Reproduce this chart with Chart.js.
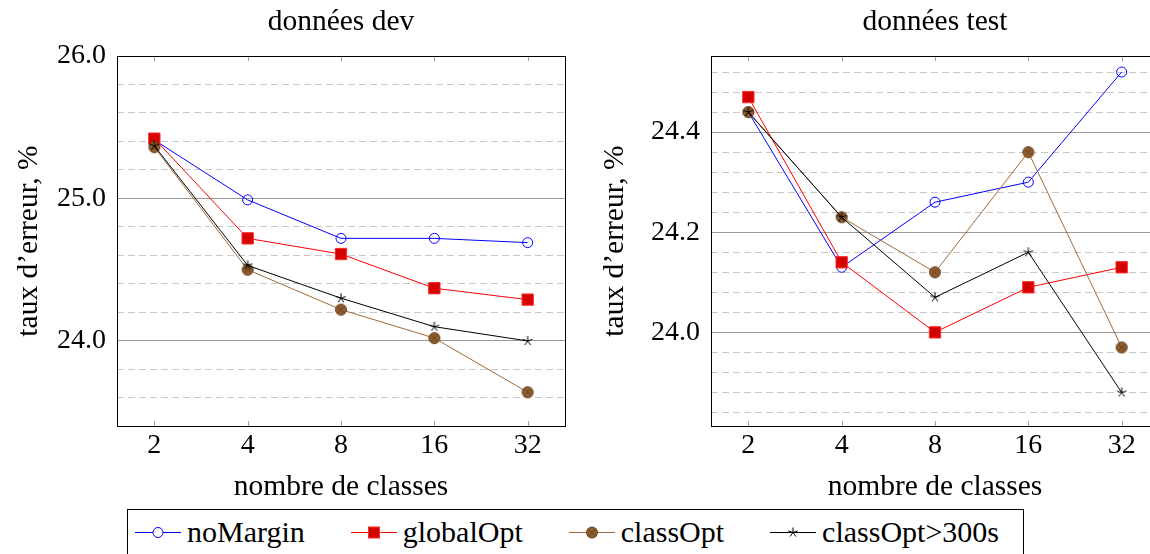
<!DOCTYPE html>
<html>
<head>
<meta charset="utf-8">
<script src="https://cdn.jsdelivr.net/npm/chart.js@4/dist/chart.umd.min.js"></script>
<style>
  html, body { margin: 0; padding: 0; background: #fff; width: 1150px; height: 554px; overflow: hidden; }
  #dev { position: absolute; left: 0; top: 0; }
  #test { position: absolute; left: 580px; top: 0; }
  #legend {
    position: absolute; left: 127px; top: 509px; width: 897px; height: 60px;
    border: 1px solid #000; box-sizing: border-box;
    display: flex; align-items: flex-start; gap: 46px;
    padding: 5px 0 0 7px;
  }
  #legend .item { display: flex; align-items: center; white-space: nowrap; }
  #legend .item span { font: normal 30px/34px "Liberation Serif", "Times New Roman", "DejaVu Serif", serif; color: #000; }
  #legend canvas { margin-right: 6px; }
</style>
</head>
<body>
<canvas id="dev" width="682" height="505"></canvas>
<canvas id="test" width="710" height="505"></canvas>
<div id="legend"></div>
<script>
// x categories (nombre de classes)
const classLabels = ['2', '4', '8', '16', '32'];
const seriesNames = ['noMargin', 'globalOpt', 'classOpt', 'classOpt>300s'];

// données dev
const devNoMargin     = [25.41, 24.99, 24.72, 24.72, 24.69];
const devGlobalOpt    = [25.42, 24.72, 24.61, 24.37, 24.29];
const devClassOpt     = [25.36, 24.50, 24.22, 24.02, 23.64];
const devClassOpt300  = [25.37, 24.53, 24.30, 24.10, 24.00];

// données test
const testNoMargin    = [24.44, 24.13, 24.26, 24.30, 24.52];
const testGlobalOpt   = [24.47, 24.14, 24.00, 24.09, 24.13];
const testClassOpt    = [24.44, 24.23, 24.12, 24.36, 23.97];
const testClassOpt300 = [24.44, 24.23, 24.07, 24.16, 23.88];

// y ticks
const devMajorTicks  = [24.0, 25.0, 26.0];
const devMinorTicks  = [23.6, 23.8, 24.2, 24.4, 24.6, 24.8, 25.2, 25.4, 25.6, 25.8];
const testMajorTicks = [24.0, 24.2, 24.4];
const testMinorTicks = [23.84, 23.88, 23.92, 23.96, 24.04, 24.08, 24.12, 24.16,
                        24.24, 24.28, 24.32, 24.36, 24.44, 24.48, 24.52];

const FONT = '"Liberation Serif", serif';

// markers
function markerCanvas(draw) {
  const c = document.createElement('canvas');
  c.width = 14; c.height = 14;
  draw(c.getContext('2d'), 7, 7);
  return c;
}
function drawOtimes(g, x, y) {
  const r = 5.5;
  g.beginPath(); g.arc(x, y, r, 0, Math.PI * 2);
  g.fillStyle = '#8f5d2c'; g.fill();
  g.lineWidth = 1; g.strokeStyle = '#6b4320'; g.stroke();
  const d = r * 0.7071;
  g.beginPath();
  g.moveTo(x - d, y - d); g.lineTo(x + d, y + d);
  g.moveTo(x + d, y - d); g.lineTo(x - d, y + d);
  g.stroke();
}
function drawStar(g, x, y) {
  const r = 5;
  g.beginPath();
  for (let k = 0; k < 5; k++) {
    const a = -Math.PI / 2 + k * 2 * Math.PI / 5;
    g.moveTo(x, y); g.lineTo(x + r * Math.cos(a), y + r * Math.sin(a));
  }
  g.strokeStyle = '#000'; g.lineWidth = 1; g.stroke();
}
const otimesImg = markerCanvas(drawOtimes);
const starImg = markerCanvas(drawStar);

const styles = [
  { borderColor: '#0000ff', backgroundColor: 'rgba(0,0,0,0)', pointStyle: 'circle', pointRadius: 5, pointBorderColor: '#0000ff' },
  { borderColor: '#ff0000', backgroundColor: '#d50000', pointStyle: 'rect', pointRadius: 8, pointBorderColor: '#ff2a2a' },
  { borderColor: '#9c6b3c', backgroundColor: '#8f5d2c', pointStyle: otimesImg, pointRadius: 6 },
  { borderColor: '#000000', backgroundColor: '#000000', pointStyle: starImg, pointRadius: 6 },
];

// frame around the plot + inward x tick marks
const framePlugin = {
  id: 'frame',
  beforeDatasetsDraw(chart) {
    const { ctx, chartArea: a, scales: { x } } = chart;
    ctx.save();
    ctx.strokeStyle = '#a0a0a0';
    ctx.lineWidth = 1;
    x.ticks.forEach(t => {
      const px = Math.round(x.getPixelForValue(t.value)) + 0.5;
      ctx.beginPath();
      ctx.moveTo(px, a.bottom); ctx.lineTo(px, a.bottom - 5);
      ctx.moveTo(px, a.top); ctx.lineTo(px, a.top + 5);
      ctx.stroke();
    });
    ctx.strokeStyle = '#000';
    ctx.strokeRect(Math.round(a.left) + 0.5, Math.round(a.top) + 0.5,
                   Math.round(a.right - a.left), Math.round(a.bottom - a.top));
    ctx.restore();
  }
};

function makeChart(id, title, series, yMin, yMax, majorTicks, minorTicks, yAxisWidth, yTitlePad, rightWidth) {
  const datasets = series.map((vals, i) => Object.assign({
    label: seriesNames[i],
    data: vals.map((v, j) => ({ x: j + 1, y: v })),
    borderWidth: 1,
    pointBorderWidth: 1,
    order: series.length - i,
  }, styles[i]));

  return new Chart(document.getElementById(id), {
    type: 'line',
    data: { datasets },
    plugins: [framePlugin],
    options: {
      responsive: false,
      animation: false,
      layout: { padding: 0 },
      plugins: {
        legend: { display: false },
        tooltip: { enabled: false },
        title: {
          display: true, text: title, color: '#000',
          font: { family: FONT, size: 29.5, weight: 'normal' },
          padding: { top: 5, bottom: 15.6 },
        },
      },
      scales: {
        x: {
          type: 'linear', min: 0.6, max: 5.4,
          afterBuildTicks: s => { s.ticks = classLabels.map((_, i) => ({ value: i + 1 })); },
          afterFit: s => { s.height = 79; },
          ticks: {
            callback: v => classLabels[v - 1],
            color: '#000', font: { family: FONT, size: 28 }, padding: 3, maxRotation: 0,
          },
          grid: { display: false, drawTicks: false },
          border: { display: false },
          title: {
            display: true, text: 'nombre de classes', color: '#000',
            font: { family: FONT, size: 29.5 }, padding: { top: 0, bottom: 0 },
          },
        },
        y: {
          type: 'linear', position: 'left', min: yMin, max: yMax,
          afterBuildTicks: s => { s.ticks = majorTicks.map(v => ({ value: v })); },
          afterFit: s => { s.width = yAxisWidth; },
          ticks: {
            callback: v => v.toFixed(1),
            color: '#000', font: { family: FONT, size: 28 }, padding: 11,
          },
          grid: { color: '#9a9a9a', drawTicks: false },
          border: { display: false },
          title: {
            display: true, text: 'taux d’erreur, %', color: '#000',
            font: { family: FONT, size: 29.5 }, padding: { top: yTitlePad, bottom: 0 },
          },
        },
        yMinor: {
          type: 'linear', position: 'right', min: yMin, max: yMax,
          afterBuildTicks: s => { s.ticks = minorTicks.map(v => ({ value: v })); },
          afterFit: s => { s.width = rightWidth; },
          ticks: { display: false },
          grid: { color: '#c8c8c8', drawTicks: false },
          border: { display: false, dash: [7, 4] },
        },
      },
    },
  });
}

makeChart('dev', 'données dev',
  [devNoMargin, devGlobalOpt, devClassOpt, devClassOpt300],
  23.403, 26.0, devMajorTicks, devMinorTicks, 117, 12, 117);

makeChart('test', 'données test',
  [testNoMargin, testGlobalOpt, testClassOpt, testClassOpt300],
  23.813, 24.552, testMajorTicks, testMinorTicks, 131, 18, 131);

// shared legend
const legend = document.getElementById('legend');
seriesNames.forEach((name, i) => {
  const item = document.createElement('div');
  item.className = 'item';
  const c = document.createElement('canvas');
  c.width = 46; c.height = 20;
  const g = c.getContext('2d');
  g.strokeStyle = styles[i].borderColor; g.lineWidth = 1;
  g.beginPath(); g.moveTo(0, 10.5); g.lineTo(46, 10.5); g.stroke();
  if (i === 0) {
    g.beginPath(); g.arc(23, 10.5, 5, 0, Math.PI * 2);
    g.fillStyle = '#fff'; g.fill(); g.strokeStyle = '#0000ff'; g.stroke();
  } else if (i === 1) {
    g.fillStyle = '#d50000'; g.fillRect(17.5, 5, 11, 11);
    g.strokeStyle = '#ff2a2a'; g.strokeRect(17.5, 5, 11, 11);
  } else if (i === 2) {
    drawOtimes(g, 23, 10.5);
  } else {
    drawStar(g, 23, 10.5);
  }
  const span = document.createElement('span');
  span.textContent = name;
  item.appendChild(c);
  item.appendChild(span);
  legend.appendChild(item);
});
</script>
</body>
</html>
